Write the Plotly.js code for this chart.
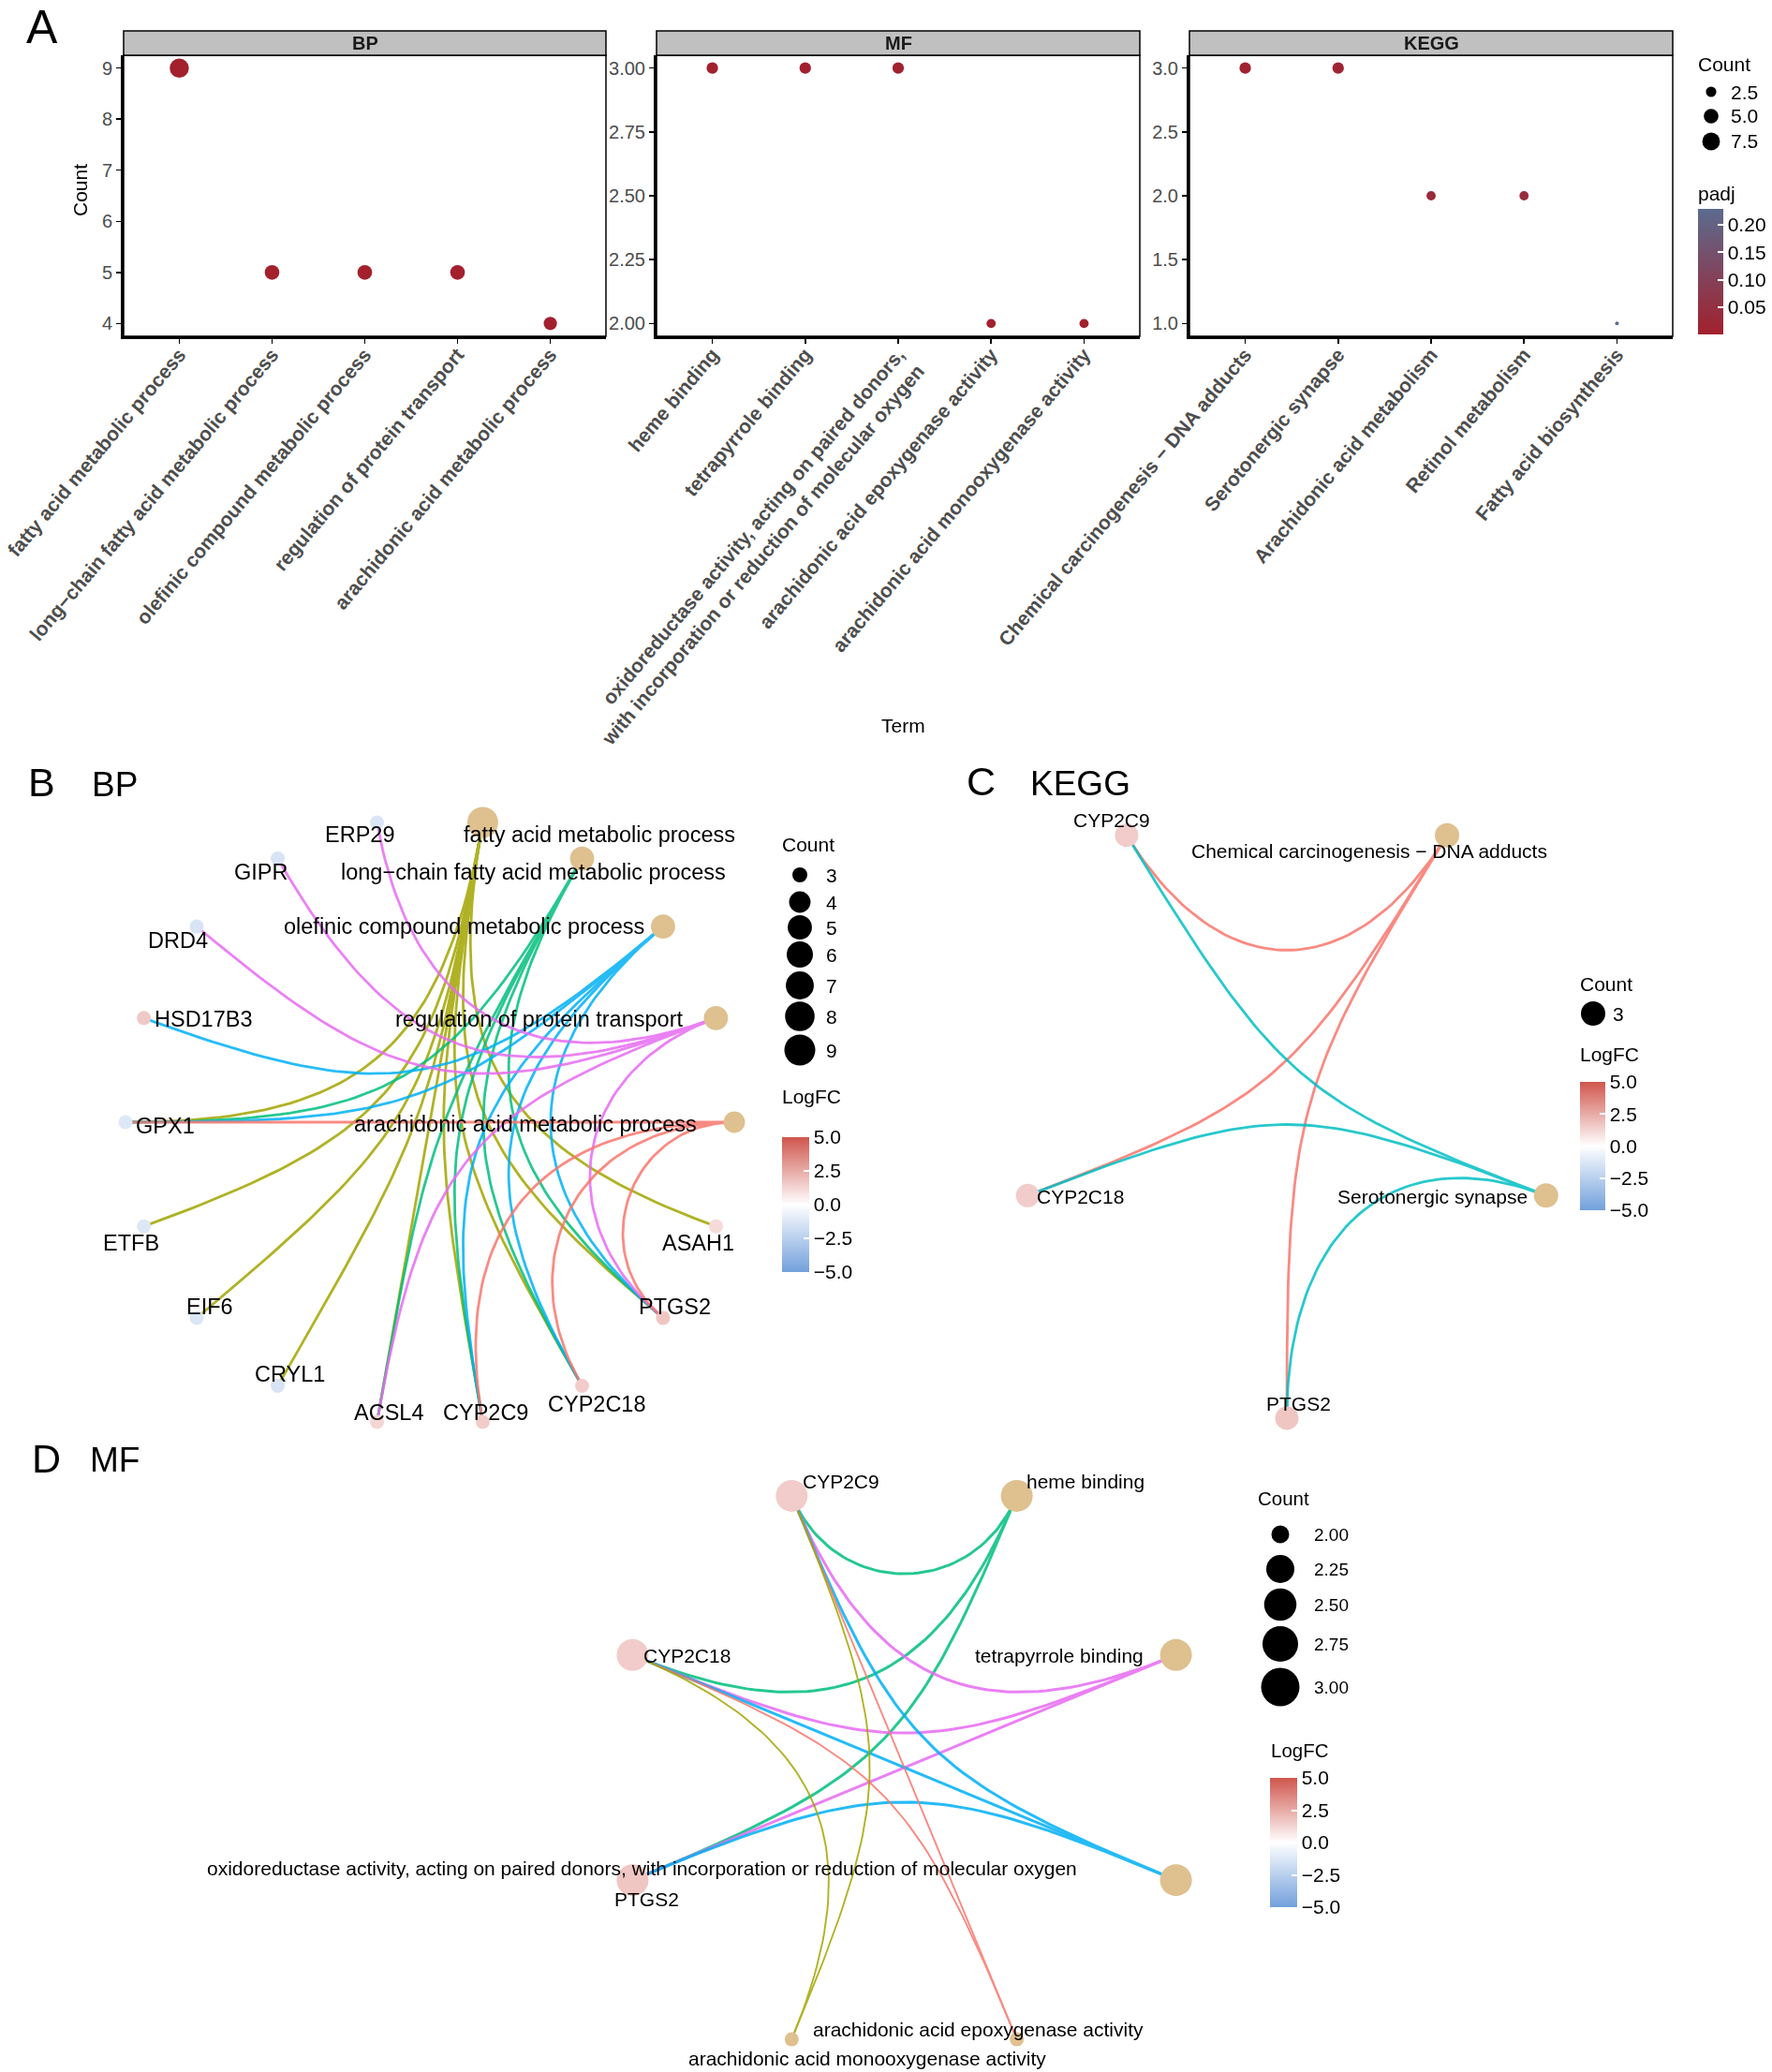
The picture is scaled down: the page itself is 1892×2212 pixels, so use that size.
<!DOCTYPE html>
<html><head><meta charset="utf-8">
<script src="https://cdn.plot.ly/plotly-3.0.1.min.js"></script>
<style>html,body{margin:0;padding:0;background:#fff}</style>
</head><body>
<div id="chart" style="width:1892px;height:2212px"></div>
<script>
// ---------------- DATA ----------------
// Panel A: dot plots
const bpTerms = ["fatty acid metabolic process","long\u2212chain fatty acid metabolic process","olefinic compound metabolic process","regulation of protein transport","arachidonic acid metabolic process"];
const bpCount = [9,5,5,5,4];
const bpPadj  = [0.0005,0.0012,0.0015,0.0018,0.0022];

const mfTerms = ["heme binding","tetrapyrrole binding","oxidoreductase activity, acting on paired donors, with incorporation or reduction of molecular oxygen","arachidonic acid epoxygenase activity","arachidonic acid monooxygenase activity"];
const mfCount = [3,3,3,2,2];
const mfPadj  = [0.003,0.003,0.003,0.006,0.006];

const keggTerms = ["Chemical carcinogenesis \u2212 DNA adducts","Serotonergic synapse","Arachidonic acid metabolism","Retinol metabolism","Fatty acid biosynthesis"];
const keggCount = [3,3,2,2,1];
const keggPadj  = [0.008,0.012,0.035,0.040,0.229];

// Gene fold changes
const geneSymbols = ["ASAH1","PTGS2","CYP2C18","CYP2C9","ACSL4","CRYL1","EIF6","ETFB","GPX1","HSD17B3","DRD4","GIPR","ERP29"];
const geneLogFC   = [1.1,1.7,1.5,1.5,1.2,-1.4,-1.3,-1.2,-1.2,1.6,-1.4,-1.4,-1.3];

// Panel B network (BP)
const bpNetTerms = bpTerms;
const bpTermGenes = [
  ["GPX1","ETFB","EIF6","CRYL1","ACSL4","CYP2C9","CYP2C18","PTGS2","ASAH1"],
  ["GPX1","ACSL4","CYP2C9","CYP2C18","PTGS2"],
  ["HSD17B3","GPX1","CYP2C9","CYP2C18","PTGS2"],
  ["ERP29","GIPR","DRD4","ACSL4","PTGS2"],
  ["GPX1","CYP2C9","CYP2C18","PTGS2"]
];
const bpGeneOrder = ["ASAH1","PTGS2","CYP2C18","CYP2C9","ACSL4","CRYL1","EIF6","ETFB","GPX1","HSD17B3","DRD4","GIPR","ERP29"];

// Panel C network (KEGG)
const keggNetTerms = ["Chemical carcinogenesis \u2212 DNA adducts","Serotonergic synapse"];
const keggNetCount = [3,3];
const keggTermGenes = [["CYP2C9","CYP2C18","PTGS2"],["CYP2C9","CYP2C18","PTGS2"]];
const keggGeneOrder = ["PTGS2","CYP2C18","CYP2C9"];

// Panel D network (MF)
const mfNetTerms = mfTerms;
const mfTermGenes = [
  ["CYP2C9","CYP2C18","PTGS2"],
  ["CYP2C9","CYP2C18","PTGS2"],
  ["CYP2C9","CYP2C18","PTGS2"],
  ["CYP2C9","CYP2C18"],
  ["CYP2C9","CYP2C18"]
];
const mfGeneOrder = ["PTGS2","CYP2C18","CYP2C9"];

// Legend keys
const legACount = [2.5,5.0,7.5];
const legBCount = [3,4,5,6,7,8,9];
const legCCount = [3];
const legDCount = [2.00,2.25,2.50,2.75,3.00];
const legFCTicks = [-5,-2.5,0,2.5,5];
const legPadjTicks = [0.05,0.10,0.15,0.20];

// ---------------- STYLE ----------------
const W = 1892, H = 2212;
const F = "Liberation Sans, Arial, Helvetica, sans-serif";
const GREY = "#4D4D4D";
const TERM_COL = "#DFC08F";
const HUE = {2:["#F8766D","#00BFC4"], 5:["#F8766D","#A3A500","#00BF7D","#00B0F6","#E76BF3"]};
const FC_SCALE = [[0,"#72A0DC"],[0.5,"#FFFFFF"],[1,"#D0564D"]];
const PADJ_SCALE = [[0,"#A3202D"],[1,"#5B6B8F"]];
const fcOf = {}; geneSymbols.forEach((g,i)=>fcOf[g]=geneLogFC[i]);
const fmtMinus = v => (v<0?"\u2212":"") + Math.abs(v).toFixed(1);

const px = x => x/W, py = y => 1 - y/H;
const domX = (a,b) => [a/W, b/W];
const domY = (top,bot) => [1-bot/H, 1-top/H];

const traces = [], shapes = [], annotations = [];
function txt(x,y,s,size,anchor,extra){
  annotations.push(Object.assign({xref:'paper',yref:'paper',x:px(x),y:py(y),text:s,showarrow:false,
    xanchor:anchor||'left',yanchor:'middle',font:{family:F,size:size,color:'#000'}},extra||{}));
}
function keyCircle(cx,cy,d){
  shapes.push({type:'circle',xref:'paper',yref:'paper',xsizemode:'pixel',ysizemode:'pixel',
    xanchor:px(cx),yanchor:py(cy),x0:-d/2,x1:d/2,y0:-d/2,y1:d/2,fillcolor:'#000',line:{width:0},layer:'above'});
}
function colorbar(x,top,len,thick,tickvals,ticktext){
  return {x:px(x),xanchor:'left',y:py(top),yanchor:'top',len:len,lenmode:'pixels',thickness:thick,
    thicknessmode:'pixels',xpad:0,ypad:0,outlinewidth:0,tickvals:tickvals,ticktext:ticktext,
    ticks:'inside',tickcolor:'#FFFFFF',ticklen:6,tickwidth:2,tickfont:{family:F,size:21,color:'#000'},title:{text:''}};
}

// ---------------- PANEL A ----------------
const allCount = bpCount.concat(mfCount,keggCount);
const cMin = Math.min(...allCount), cMax = Math.max(...allCount);
const sizeA = c => 4 + 16.5*Math.sqrt((c-cMin)/(cMax-cMin));
const allPadj = bpPadj.concat(mfPadj,keggPadj);
const pMin = Math.min(...allPadj), pMax = Math.max(...allPadj);
function yRange(v){const a=Math.min(...v),b=Math.max(...v),s=b-a;return [a-0.05*s,b+0.05*s];}

const panelsA = [
  {terms:bpTerms,count:bpCount,padj:bpPadj,xa:'x',ya:'y',xd:domX(132,647),dtick:1,fmt:'d',strip:'BP'},
  {terms:mfTerms,count:mfCount,padj:mfPadj,xa:'x2',ya:'y2',xd:domX(701,1217),dtick:0.25,fmt:'.2f',strip:'MF'},
  {terms:keggTerms,count:keggCount,padj:keggPadj,xa:'x3',ya:'y3',xd:domX(1270,1786),dtick:0.5,fmt:'.1f',strip:'KEGG'}
];
const layout = {
  width:W,height:H,margin:{l:0,r:0,t:0,b:0},paper_bgcolor:'#fff',plot_bgcolor:'rgba(0,0,0,0)',
  font:{family:F,color:'#000'},showlegend:false,
  coloraxis:{cmin:pMin,cmax:pMax,colorscale:PADJ_SCALE,
    colorbar:colorbar(1813,223,134,27,legPadjTicks,legPadjTicks.map(v=>v.toFixed(2)))},
  coloraxis2:{cmin:-5,cmax:5,colorscale:FC_SCALE,colorbar:colorbar(835,1214,144,29,legFCTicks,legFCTicks.map(fmtMinus))},
  coloraxis3:{cmin:-5,cmax:5,colorscale:FC_SCALE,colorbar:colorbar(1687,1155,137,27,legFCTicks,legFCTicks.map(fmtMinus))},
  coloraxis4:{cmin:-5,cmax:5,colorscale:FC_SCALE,colorbar:colorbar(1356,1898,138,29,legFCTicks,legFCTicks.map(fmtMinus))}
};
const yDomA = domY(59,359);
panelsA.forEach((p,i)=>{
  const sfx = i===0?'':String(i+1);
  const labels = p.terms.map(t=>t.replace(", with",",<br>with"));
  layout['xaxis'+sfx] = {domain:p.xd,anchor:p.ya,type:'category',categoryorder:'array',categoryarray:p.terms,
    range:[-0.6,p.terms.length-0.4],tickmode:'array',tickvals:p.terms,ticktext:labels,tickangle:-50,
    ticklabelstandoff:-9,
    tickfont:{family:F,size:21,color:GREY,weight:'bold'},ticks:'outside',ticklen:5,tickwidth:1.5,tickcolor:'#000',
    showline:true,linewidth:3,linecolor:'#000',showgrid:false,zeroline:false,fixedrange:true};
  layout['yaxis'+sfx] = {domain:yDomA,anchor:p.xa,range:yRange(p.count),dtick:p.dtick,tick0:0,tickformat:p.fmt,
    tickfont:{family:F,size:20,color:GREY},ticks:'outside',ticklen:5,tickwidth:1.5,tickcolor:'#000',
    showline:true,linewidth:3,linecolor:'#000',showgrid:false,zeroline:false,fixedrange:true};
  traces.push({type:'scatter',mode:'markers',x:p.terms,y:p.count,xaxis:p.xa,yaxis:p.ya,cliponaxis:false,
    marker:{size:p.count.map(sizeA),color:p.padj,coloraxis:'coloraxis',opacity:1,line:{width:0}},hoverinfo:'x+y'});
  shapes.push({type:'rect',xref:p.xa+' domain',yref:p.ya+' domain',x0:0,x1:1,y0:0,y1:1,line:{color:'#000',width:1.5},layer:'above'});
  shapes.push({type:'rect',xref:p.xa+' domain',yref:p.ya+' domain',x0:0,x1:1,y0:1,y1:1+26/300,fillcolor:'#C0C0C0',line:{color:'#000',width:1.5},layer:'above'});
  annotations.push({xref:p.xa+' domain',yref:p.ya+' domain',x:0.5,y:1+13/300,text:p.strip,showarrow:false,
    xanchor:'center',yanchor:'middle',font:{family:F,size:20,color:'#1A1A1A',weight:'bold'}});
});
txt(85,203,"Count",21,'center',{textangle:-90});
txt(965,775,"Term",21,'center');
// A legend
txt(1811,68,"Count",21,'left');
[98,124,151].forEach((y,i)=>{keyCircle(1827,y,sizeA(legACount[i])); txt(1846,y,legACount[i].toFixed(1),21,'left');});
txt(1811,207,"padj",21,'left');

// ---------------- NETWORKS ----------------
function network(cfg){
  const nodes = cfg.terms.concat(cfg.genes);
  const n = nodes.length, step = 360/n, pos = {};
  nodes.forEach((nm,i)=>{const a=(90-step/2-i*step)*Math.PI/180; pos[nm]=[Math.cos(a),Math.sin(a)];});
  const cats = cfg.terms.slice().sort();
  const pal = HUE[cats.length];
  cfg.terms.forEach((t,ti)=>{
    const xs=[],ys=[];
    cfg.termGenes[ti].forEach(g=>{
      const p0=pos[t],p3=pos[g];
      const d=Math.hypot(p3[0]-p0[0],p3[1]-p0[1])/2, k=1-d; // ggraph circular arc controls
      const c1=[p0[0]*k,p0[1]*k], c2=[p3[0]*k,p3[1]*k];
      for(let s=0;s<=60;s++){const u=s/60,v=1-u;
        xs.push(v*v*v*p0[0]+3*v*v*u*c1[0]+3*v*u*u*c2[0]+u*u*u*p3[0]);
        ys.push(v*v*v*p0[1]+3*v*v*u*c1[1]+3*v*u*u*c2[1]+u*u*u*p3[1]);}
      xs.push(null);ys.push(null);
    });
    traces.push({type:'scatter',mode:'lines',x:xs,y:ys,xaxis:cfg.xa,yaxis:cfg.ya,opacity:0.85,
      line:{color:pal[cats.indexOf(t)],width:cfg.edgeW(cfg.counts[ti])},hoverinfo:'skip'});
  });
  traces.push({type:'scatter',mode:'markers',x:cfg.terms.map(t=>pos[t][0]),y:cfg.terms.map(t=>pos[t][1]),
    xaxis:cfg.xa,yaxis:cfg.ya,cliponaxis:false,text:cfg.terms,hoverinfo:'text',
    marker:{size:cfg.counts.map(cfg.termSize),color:TERM_COL,opacity:1,line:{width:0}}});
  traces.push({type:'scatter',mode:'markers',x:cfg.genes.map(g=>pos[g][0]),y:cfg.genes.map(g=>pos[g][1]),
    xaxis:cfg.xa,yaxis:cfg.ya,cliponaxis:false,text:cfg.genes,hoverinfo:'text',
    marker:{size:cfg.geneSize,color:cfg.genes.map(g=>fcOf[g]),coloraxis:cfg.cax,opacity:1,line:{width:0}}});
  nodes.forEach(nm=>{
    const L = cfg.lab[nm]||[0,0,'center'];
    annotations.push({xref:cfg.xa,yref:cfg.ya,x:pos[nm][0],y:pos[nm][1],xshift:L[0],yshift:-L[1],
      text:nm,showarrow:false,xanchor:L[2],yanchor:'middle',font:{family:F,size:cfg.font,color:'#000'}});
  });
  const sfx = cfg.xa.slice(1);
  layout['xaxis'+sfx]={domain:cfg.xd,anchor:cfg.ya,range:[-1,1],visible:false,fixedrange:true};
  layout['yaxis'+sfx]={domain:cfg.yd,anchor:cfg.xa,range:[-1,1],visible:false,fixedrange:true};
}

// B
const sizeB = c => 16 + 17*Math.sqrt((c-3)/6);
network({terms:bpNetTerms,counts:bpCount,termGenes:bpTermGenes,genes:bpGeneOrder,xa:'x4',ya:'y4',
  xd:domX(459-325,459+325),yd:domY(1198-325,1198+325),cax:'coloraxis2',geneSize:15,termSize:sizeB,
  edgeW:()=>2.8,font:23.5,
  lab:{"fatty acid metabolic process":[125,13,'center'],"long\u2212chain fatty acid metabolic process":[-52,14,'center'],
   "olefinic compound metabolic process":[-18,0,'right'],"regulation of protein transport":[-33,1,'right'],
   "arachidonic acid metabolic process":[-38,2,'right'],ERP29:[-19,13,'center'],GIPR:[-18,14,'center'],
   DRD4:[-20,15,'center'],HSD17B3:[9,1,'left'],GPX1:[9,4,'left'],ETFB:[-14,18,'center'],EIF6:[14,-12,'center'],
   CRYL1:[13,-12,'center'],ACSL4:[12,-10,'center'],CYP2C9:[3,-10,'center'],CYP2C18:[16,20,'center'],
   PTGS2:[13,-12,'center'],ASAH1:[-19,18,'center']}});
txt(28,835,"B",43,'left'); txt(96,837,"BP",37,'left');
txt(833,901,"Count",21,'left');
[934,963,990,1019,1052,1085,1121].forEach((y,i)=>{keyCircle(854,y,sizeB(legBCount[i])); txt(880,y,String(legBCount[i]),21,'left');});
txt(833,1170,"LogFC",21,'left');

// C
network({terms:keggNetTerms,counts:keggNetCount,termGenes:keggTermGenes,genes:keggGeneOrder,xa:'x5',ya:'y5',
  xd:domX(1374-291,1374+291),yd:domY(1170-344,1170+344),cax:'coloraxis3',geneSize:25,termSize:()=>26,
  edgeW:()=>2.8,font:21,
  lab:{"Chemical carcinogenesis \u2212 DNA adducts":[-83,17,'center'],"Serotonergic synapse":[-18,1,'right'],
   PTGS2:[12,-16,'center'],CYP2C18:[8,1,'left'],CYP2C9:[-16,-16,'center']}});
txt(1030,834,"C",43,'left'); txt(1098,836,"KEGG",37,'left');
txt(1685,1050,"Count",21,'left');
keyCircle(1701,1082,26); txt(1720,1082,String(legCCount[0]),21,'left');
txt(1685,1125,"LogFC",21,'left');

// D
const sizeD = c => 15 + 19*Math.sqrt(c-2);
const sizeDleg = v => 19 + 22*Math.sqrt(v-2);
network({terms:mfNetTerms,counts:mfCount,termGenes:mfTermGenes,genes:mfGeneOrder,xa:'x6',ya:'y6',
  xd:domX(965.5-314,965.5+314),yd:domY(1887-314,1887+314),cax:'coloraxis4',geneSize:34,termSize:sizeD,
  edgeW:c=>c>=3?3:1.9,font:21,
  lab:{"heme binding":[8,-15,'left'],"tetrapyrrole binding":[-33,1,'right'],
   "oxidoreductase activity, acting on paired donors, with incorporation or reduction of molecular oxygen":[-570,-13,'center'],
   "arachidonic acid epoxygenase activity":[-41,-11,'center'],"arachidonic acid monooxygenase activity":[81,20,'center'],
   PTGS2:[15,20,'center'],CYP2C18:[10,1,'left'],CYP2C9:[10,-15,'left']}});
txt(32,1557,"D",43,'left'); txt(94,1558,"MF",37,'left');
txt(1341,1599,"Count",20.5,'left');
[1638,1675,1713,1755,1801].forEach((y,i)=>{keyCircle(1367,y,sizeDleg(legDCount[i])); txt(1401,y,legDCount[i].toFixed(2),19,'left');});
txt(1355,1868,"LogFC",20.5,'left');

txt(26,29,"A",50,'left');

traces.forEach(t=>t.showlegend=false);
layout.shapes = shapes; layout.annotations = annotations;
Plotly.newPlot('chart',traces,layout,{staticPlot:true,displayModeBar:false});
</script>
</body></html>
